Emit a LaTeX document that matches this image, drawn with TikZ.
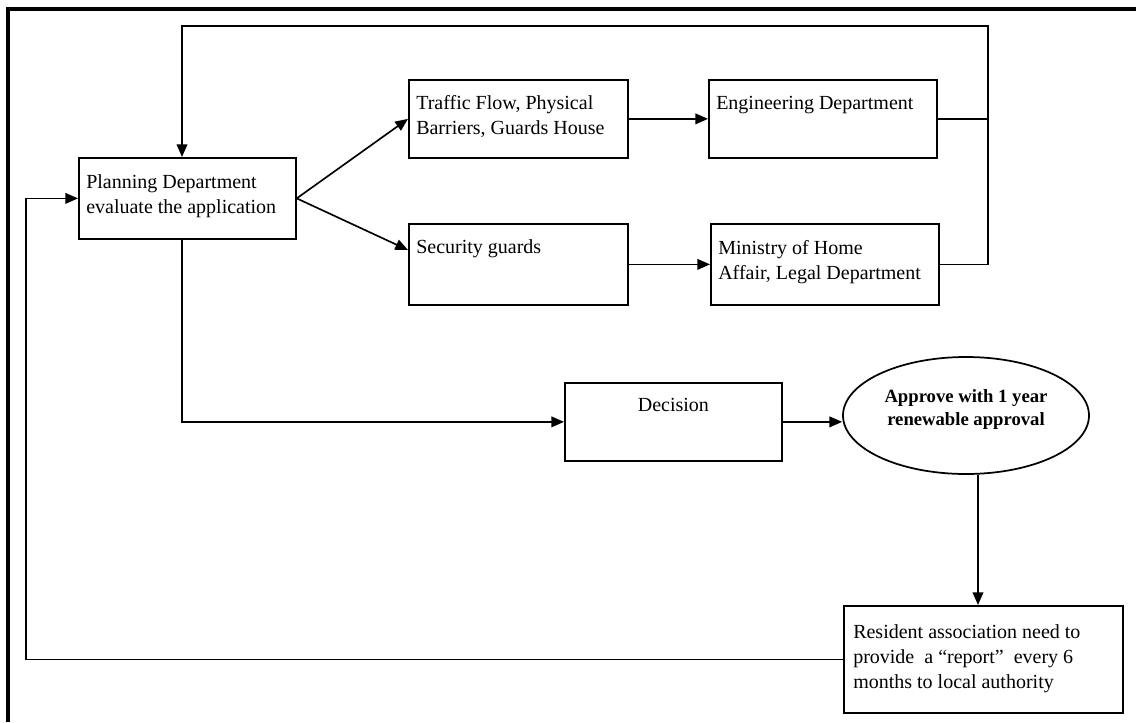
\documentclass[tikz,border=0pt]{standalone}
\usepackage{fontspec}
\setmainfont{Liberation Serif}
\usetikzlibrary{shapes.geometric,arrows.meta,calc}

% multi-line text whose reference point is the first baseline
\newcommand{\leftlines}[1]{\parbox[t]{300pt}{\raggedright #1}}
\newcommand{\midlines}[1]{\parbox[t]{240pt}{\centering #1}}

\begin{document}
\begin{tikzpicture}[x=0.75pt,y=-0.75pt,
  procbox/.style={draw, line width=1.3pt, inner sep=0pt, anchor=north west},
  oval/.style={draw, ellipse, line width=1.3pt, inner sep=0pt},
  lbl/.style={inner sep=0pt, anchor=base west, font=\fontsize{15}{18.75}\selectfont},
  blbl/.style={inner sep=0pt, anchor=base, font=\fontsize{14}{17.25}\selectfont\bfseries},
  conn/.style={line width=1.25pt},
  arr/.style={conn, -{Triangle[length=9.5pt,width=8pt]}},
  outerrule/.style={line width=2.6pt}]

\useasboundingbox (0,0) rectangle (1136,722);

% frame lines along the top and left
\draw[outerrule] (8,722) -- (8,9) -- (1136,9);

% process boxes
\node[procbox, minimum width=217*0.75pt, minimum height=81*0.75pt] (plan) at (78,157) {};
\node[procbox, minimum width=219*0.75pt, minimum height=78*0.75pt] (traffic) at (408,79) {};
\node[procbox, minimum width=228*0.75pt, minimum height=78*0.75pt] (eng) at (708,79) {};
\node[procbox, minimum width=219*0.75pt, minimum height=81*0.75pt] (sec) at (408,223) {};
\node[procbox, minimum width=228*0.75pt, minimum height=81*0.75pt] (min) at (710,223) {};
\node[procbox, minimum width=217*0.75pt, minimum height=78*0.75pt] (dec) at (564,382) {};
\node[oval, minimum width=246*0.75pt, minimum height=117*0.75pt] (appr) at (966,415.5) {};
\node[procbox, minimum width=279*0.75pt, minimum height=107*0.75pt] (res) at (843,605) {};

% box texts
\node[lbl] (planT) at ($(plan.north west)+(8,31)$) {\leftlines{Planning Department\\evaluate the application}};
\node[lbl] (trafficT) at ($(traffic.north west)+(8,30)$) {\leftlines{Traffic Flow, Physical\\Barriers, Guards House}};
\node[lbl] (engT) at ($(eng.north west)+(8,30)$) {Engineering Department};
\node[lbl] (secT) at ($(sec.north west)+(8,30)$) {Security guards};
\node[lbl] (minT) at ($(min.north west)+(8,31)$) {\leftlines{Ministry of Home\\Affair, Legal Department}};
\node[lbl, anchor=base] (decT) at ($(dec.north)+(0,29)$) {Decision};
\node[blbl] (apprT) at ($(appr.center)+(0,-13.5)$) {\midlines{Approve with 1 year\\renewable approval}};
\node[lbl] (resT) at ($(res.north west)+(10,33)$) {\leftlines{Resident association need to\\provide~ a “report”~ every 6\\months to local authority}};

% helper points for the routed connectors
\coordinate (rtop) at (988,26);
\coordinate (ltop) at (182,26);
\coordinate (drop) at (978,0);
\coordinate (lft) at (26,0);

% connectors
\draw[arr] (plan.east) -- (traffic.west);
\draw[arr] (plan.east) -- ($(sec.north west)+(0,27)$);
\draw[arr] (traffic.east) -- (eng.west);
\draw[arr] (sec.east) -- (min.west);
\draw[conn] (eng.east) -- (eng.east -| rtop);
\draw[arr] (min.east) -- (min.east -| rtop) -- (rtop) -- (ltop) -- (ltop |- plan.north);
\draw[arr] (ltop |- plan.south) |- (dec.west);
\draw[arr] (dec.east) -- (dec.east -| appr.west);
\draw[arr] (appr.south -| drop) -- (res.north -| drop);
\draw[arr] (res.west) -- (res.west -| lft) -- (lft |- plan.west) -- (plan.west);

\end{tikzpicture}
\end{document}
